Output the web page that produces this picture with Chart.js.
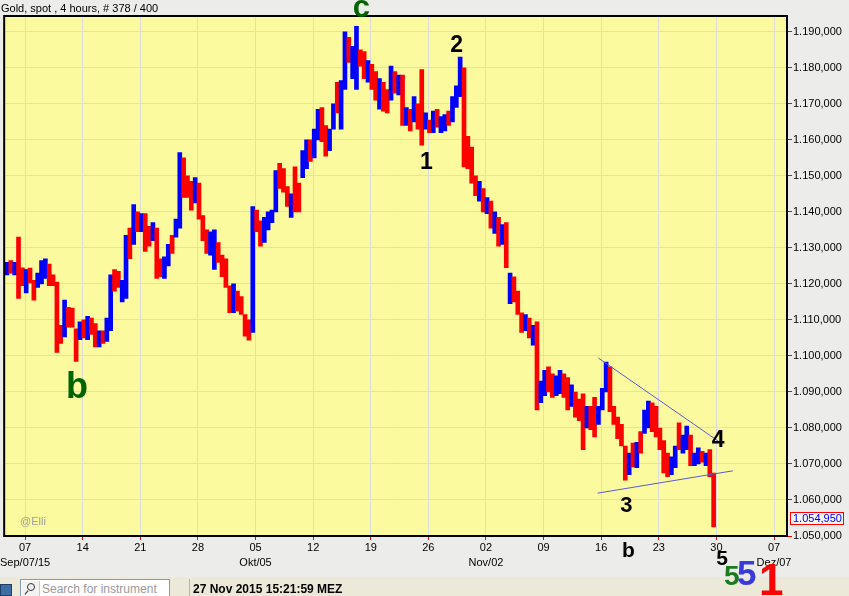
<!DOCTYPE html>
<html><head><meta charset="utf-8">
<script src="https://cdn.jsdelivr.net/npm/chart.js@4.4.1/dist/chart.umd.min.js"></script>
<style>
html,body{margin:0;padding:0;width:849px;height:596px;overflow:hidden;background:#ECEDEB;font-family:"Liberation Sans",Arial,sans-serif;}
canvas{position:absolute;left:0;top:0;}
#title{position:absolute;left:1px;top:3px;font-size:11px;line-height:11px;color:#000;white-space:nowrap;z-index:2;}
#blueSq{position:absolute;left:0;top:584px;width:12px;height:12px;background:#3A6EA5;border:1px solid #1F3F66;box-sizing:border-box;z-index:2;}
#search{position:absolute;left:20px;top:579px;width:150px;height:19px;background:#fff;border:1px solid #7F9DB9;box-sizing:border-box;z-index:2;}
#mag{position:absolute;left:1px;top:1px;width:17px;height:16px;background:#F2F2F2;border-right:1px solid #ccc;}
#mag:before{content:"";position:absolute;left:5px;top:2px;width:6px;height:6px;border:1px solid #333;border-radius:50%;}
#mag:after{content:"";position:absolute;left:4px;top:9px;width:1px;height:5px;background:#333;transform:rotate(40deg);}
#stext{position:absolute;left:21px;top:2px;font-size:12px;color:#9A9A9A;white-space:nowrap;}
#sep{position:absolute;left:189px;top:579px;width:1px;height:17px;background:#B8B5A6;z-index:2;}
#stamp{position:absolute;left:193px;top:582px;font-size:12px;font-weight:bold;color:#000;white-space:nowrap;z-index:2;}
</style>
</head><body>
<canvas id="c" width="849" height="596"></canvas>
<div id="title">Gold, spot , 4 hours, # 378 / 400</div>
<div id="blueSq"></div>
<div id="search"><div id="mag"></div><div id="stext">Search for instrument</div></div>
<div id="sep"></div>
<div id="stamp">27 Nov 2015 15:21:59 MEZ</div>
<script>
// ---- data (8-hour bars) ----
const barHigh = [1126,1126.5,1126,1133,1124.5,1124,1124.4,1121,1123,1126.5,1127,1125.5,1122.5,1120.5,1108.5,1115.5,1113.5,1113.3,1107.5,1109.5,
1110,1111,1110.5,1109,1107,1107,1110.5,1122.5,1124,1123.5,1121,1133.5,1135.5,1142,1140,1139.5,1139.5,1136,1137,1135.5,
1127,1127.5,1131,1133.5,1138,1156.5,1155,1150,1148.5,1149.5,1148,1139,1135,1134.5,1135,1131.5,1128,1127,1119.5,1120,
1118,1116.5,1111.5,1110,1141.5,1140.5,1137.5,1138.5,1140,1140.5,1151.5,1153.5,1152,1147,1145,1152.5,1148,1157,1160,1160,
1163,1168.5,1169,1164,1163,1170,1176,1176.5,1190,1188.5,1186,1191.5,1185,1184.5,1182,1181,1179,1177,1176,1174,
1180.5,1179,1178,1178,1169,1168.5,1172,1170,1179.5,1167.5,1165.5,1168,1168.5,1166.5,1167,1168,1172,1175,1183,1180,
1161,1158,1150,1148.5,1146.5,1144,1143,1140,1138.5,1136.5,1137,1123,1122,1118,1112,1111.5,1110.5,1108.5,1109.5,1093,
1096,1097,1095,1094.5,1096,1095,1094,1092,1090,1088,1089.5,1086,1086,1088.5,1086,1091,1098.3,1097,1086,1083,
1081,1075,1073,1075.8,1076,1079,1085,1087.5,1087,1086,1080,1076.5,1073,1072,1075,1081.4,1078,1080.5,1078,1073,
1074.5,1073.5,1073,1074,1067.5];
const barLow = [1122.5,1123,1122.5,1116,1119.5,1117.5,1120.3,1115.5,1119,1120,1121.5,1119.5,1119.5,1101,1103.5,1105.3,1108,1108,1098.5,1104.5,
1105,1104.5,1106,1102.5,1102.5,1103.5,1104,1107,1118,1119,1115,1116,1127,1131,1134.5,1134.5,1129,1130.5,1132,1121.5,
1122,1121.5,1125,1128.5,1133,1135.5,1144,1144,1140.5,1142.5,1138,1132,1128.5,1128,1124,1126,1122,1119,1112,1112,
1112.5,1111.5,1105.5,1104.4,1106.5,1134.5,1130.5,1131.5,1135,1137,1140,1146.5,1145.5,1141.5,1138.5,1140,1140,1149.5,1152,1154,
1155,1160,1159.5,1155.5,1157,1163,1167.5,1163,1174,1181.5,1177,1174,1180.5,1177,1176,1174,1171,1168.5,1168,1167.5,
1171,1173,1172.5,1164,1164,1162.5,1165,1163,1158.5,1163,1162,1162,1163.5,1162,1162.5,1164,1165,1169,1172,1152.5,
1152,1148,1144.5,1143,1140,1139.5,1135.5,1134,1130.5,1131,1124.5,1114.5,1115,1111.5,1106.5,1107,1105,1103,1085,1087,
1089,1090,1088.5,1089,1089.5,1088.5,1085,1086,1083,1082,1074,1080,1079.5,1077.5,1081,1085,1090,1084.5,1081,1077,
1075,1065.5,1067,1069.2,1069,1073,1078.5,1080,1079,1077.5,1074,1067.5,1066.5,1067,1069,1074,1073,1074,1069.5,1069.5,
1070,1070.5,1069.5,1066.5,1052.5];
// 'u' = close above open (blue), 'd' = close below open (red)
const barDir = [
'u','d','u','d','d','u','d','d','u','u',
'u','d','d','d','d','u','d','d','d','u',
'd','u','d','d','u','d','u','u','d','d',
'u','u','d','u','d','u','d','d','u','d',
'd','u','u','d','u','u','d','d','d','u',
'd','d','d','u','u','d','d','d','d','u',
'd','d','d','d','u','d','d','u','u','u',
'u','d','d','d','u','d','d','u','u','d',
'u','u','d','d','u','u','d','u','u','d',
'u','u','d','d','u','d','d','u','d','d',
'u','d','u','d','u','d','u','d','d','u',
'd','u','d','u','u','d','u','u','u','d',
'd','d','d','u','d','u','d','u','d','u',
'd','u','d','d','d','u','d','u','d','u',
'u','d','d','u','u','d','d','u','d','d',
'd','u','d','d','u','u','u','d','d','d',
'd','d','u','d','u','d','u','u','d','d',
'd','d','d','u','u','d','u','u','d','u',
'u','d','u','d','d'];
const lastClose = 1054.95;
const dayLabels = ['07','14','21','28','05','12','19','26','02','09','16','23','30','07'];
const monthLabels = ['Sep/07/15','','','','Okt/05','','','','Nov/02','','','','','Dez/07'];
const yTickValues = [1050,1060,1070,1080,1090,1100,1110,1120,1130,1140,1150,1160,1170,1180,1190];
const upperLine = [{x:154.0, y:1099.4},{x:186.2, y:1075.6}];
const lowerLine = [{x:153.8, y:1061.9},{x:189.0, y:1068.1}];

// ---- axis geometry (bar-index x axis) ----
const xMin = -0.73, xMax = 203.1, firstWeekBar = 4.72, barsPerWeek = 15;
const yMin = 1050, yMax = 1194.4;

function fmt(v){const s=v.toFixed(3);const p=s.split('.');return p[0].replace(/\B(?=(\d{3})+(?!\d))/g,'.')+','+p[1];}

const bars = barHigh.map((h,i)=>({x:i, y:[barLow[i], h]}));
const barColors = barHigh.map((h,i)=> barDir[i]==='u' ? '#0000FF' : '#FF0000');

const notes = [
  {t:'c', x:92.3, y:1194.2, font:'bold 31px "Liberation Sans"', color:'#006400'},
  {t:'2', x:117.1, y:1184.4, font:'bold 23px "Liberation Sans"', color:'#000'},
  {t:'1', x:109.2, y:1151.9, font:'bold 23px "Liberation Sans"', color:'#000'},
  {t:'b', x:18.2, y:1088.3, font:'bold 36px "Liberation Sans"', color:'#006400'},
  {t:'3', x:161.3, y:1056.7, font:'bold 22px "Liberation Sans"', color:'#000'},
  {t:'4', x:185.2, y:1074.7, font:'bold 23px "Liberation Sans"', color:'#000'},
  {t:'b', x:161.8, y:1044.2, font:'bold 21px "Liberation Sans"', color:'#000'},
  {t:'5', x:186.2, y:1041.9, font:'bold 21px "Liberation Sans"', color:'#000'},
  {t:'5', x:188.7, y:1036.4, font:'bold 28px "Liberation Sans"', color:'#1E7A1E'},
  {t:'5', x:192.6, y:1036.4, font:'bold 35px "Liberation Sans"', color:'#3A3ADC'},
  {t:'1', x:199.0, y:1033.6, font:'bold 44px "Liberation Sans"', color:'#FF0000'},
  {t:'@Elli', x:3.42, y:1053.1, font:'11px "Liberation Sans"', color:'#A0A0A0', align:'left'}
];

const deco = {
  id:'deco',
  beforeDraw(chart){
    const {ctx, chartArea:a} = chart;
    ctx.save();
    ctx.fillStyle='#ECEDEB'; ctx.fillRect(0,0,chart.width,chart.height);
    ctx.fillStyle='#ECE9D8'; ctx.fillRect(0,577,chart.width,chart.height-577);
    ctx.fillStyle='#FBFA9E'; ctx.fillRect(a.left,a.top,a.right-a.left,a.bottom-a.top);
    ctx.restore();
  },
  afterDraw(chart){
    const {ctx, chartArea:a, scales} = chart;
    ctx.save();
    ctx.strokeStyle='#000'; ctx.lineWidth=2;
    ctx.strokeRect(a.left, a.top, a.right-a.left, a.bottom-a.top);
    const py = Math.round(scales.y.getPixelForValue(lastClose));
    ctx.fillStyle='#F4F4F2'; ctx.fillRect(a.right+3, py-6, 54, 13);
    ctx.strokeStyle='#FF0000'; ctx.lineWidth=1;
    ctx.strokeRect(a.right+3.5, py-5.5, 53, 12);
    ctx.fillStyle='#0000FF'; ctx.font='11px "Liberation Sans"'; ctx.textBaseline='middle'; ctx.textAlign='left';
    ctx.fillText(fmt(lastClose), a.right+6, py+1);
    ctx.textBaseline='alphabetic';
    notes.forEach(n=>{
      ctx.font=n.font; ctx.fillStyle=n.color; ctx.textAlign=n.align||'center';
      ctx.fillText(n.t, scales.x.getPixelForValue(n.x), scales.y.getPixelForValue(n.y));
    });
    ctx.restore();
  }
};

new Chart(document.getElementById('c'), {
  type:'bar',
  data:{datasets:[
    {type:'bar', data:bars, backgroundColor:barColors, barThickness:4, borderWidth:0, order:2},
    {type:'line', data:upperLine, borderColor:'#5C5CD0', borderWidth:1, pointRadius:0, order:1},
    {type:'line', data:lowerLine, borderColor:'#5C5CD0', borderWidth:1, pointRadius:0, order:1}
  ]},
  options:{
    responsive:false, animation:false, devicePixelRatio:1,
    layout:{padding:{top:16,left:1,right:0,bottom:0}},
    plugins:{legend:{display:false}, tooltip:{enabled:false}, title:{display:false}},
    scales:{
      x:{type:'linear', min:xMin, max:xMax, offset:false,
        grid:{color:'#DCDCDC', lineWidth:1, tickLength:4, tickColor:'#FF0000', offset:false},
        border:{display:false},
        afterBuildTicks(s){ s.ticks = dayLabels.map((d,k)=>({value:firstWeekBar + k*barsPerWeek})); },
        afterFit(s){ s.height = 60; },
        ticks:{autoSkip:false, maxRotation:0, padding:0, color:'#000',
          font:{family:'"Liberation Sans"', size:11, lineHeight:15/11},
          callback(v,i){ return monthLabels[i] ? [dayLabels[i], monthLabels[i]] : dayLabels[i]; }}
      },
      y:{type:'linear', position:'right', min:yMin, max:yMax,
        grid:{color:'#DCDCDC', lineWidth:1, tickLength:5, tickColor:'#FF0000'},
        border:{display:false},
        afterBuildTicks(s){ s.ticks = yTickValues.map(v=>({value:v})); },
        afterFit(s){ s.width = 62; },
        ticks:{padding:1, color:'#000', font:{family:'"Liberation Sans"', size:11},
          callback(v){ return fmt(v); }}
      }
    }
  },
  plugins:[deco]
});
</script>
</body></html>
